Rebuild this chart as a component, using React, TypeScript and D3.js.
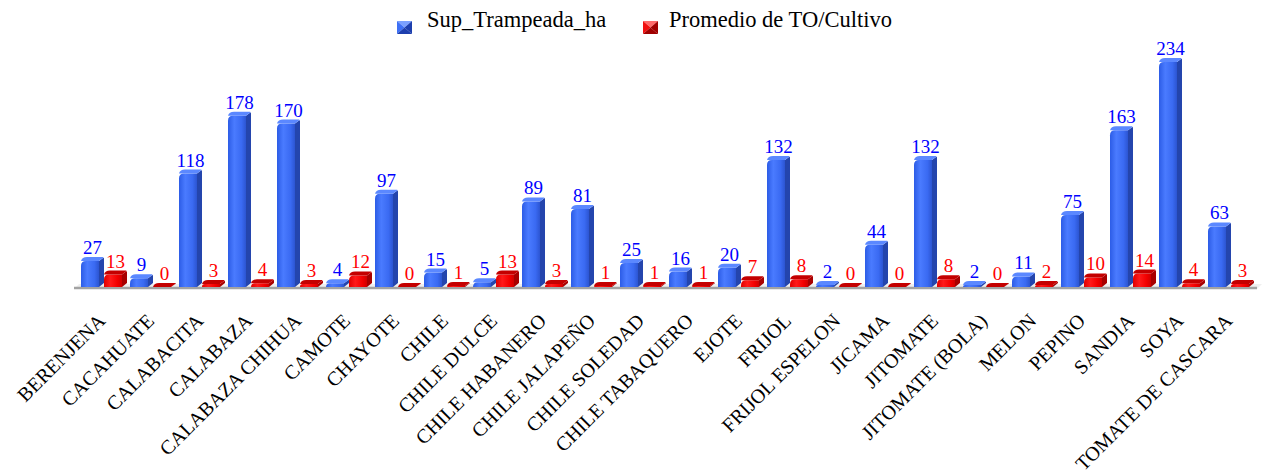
import * as d3 from 'd3';

const categories = [
  'BERENJENA', 'CACAHUATE', 'CALABACITA', 'CALABAZA', 'CALABAZA CHIHUA', 'CAMOTE',
  'CHAYOTE', 'CHILE', 'CHILE DULCE', 'CHILE HABANERO', 'CHILE JALAPEÑO', 'CHILE SOLEDAD',
  'CHILE TABAQUERO', 'EJOTE', 'FRIJOL', 'FRIJOL ESPELON', 'JICAMA', 'JITOMATE',
  'JITOMATE (BOLA)', 'MELON', 'PEPINO', 'SANDIA', 'SOYA', 'TOMATE DE CASCARA',
];
const supTrampeada = [27, 9, 118, 178, 170, 4, 97, 15, 5, 89, 81, 25, 16, 20, 132, 2, 44, 132, 2, 11, 75, 163, 234, 63];
const promedioTO = [13, 0, 3, 4, 3, 12, 0, 1, 13, 3, 1, 1, 1, 7, 8, 0, 0, 8, 0, 2, 10, 14, 4, 3];
const seriesNames = ['Sup_Trampeada_ha', 'Promedio de TO/Cultivo'];

const W = 1262;
const H = 476;
const floorY = 287;
const DX = 5;
const DY = 4;
const serif = { fontFamily: "'Liberation Serif'" };

const palette = [
  { front: 'gBlue', side: '#2445ad', top: '#5b88ff', text: '#0000ff', light: '#7aa0ff', dark: '#1d3fae', mid: '#3e70f5' },
  { front: 'gRed', side: '#a80000', top: '#c40000', text: '#ff0000', light: '#ff6a6a', dark: '#a00000', mid: '#f01010' },
];

function Bar({ x, y, bw, c }: { x: number; y: number; bw: number; c: typeof palette[0] }) {
  const fw = bw - DX;
  const r = Math.min(5, Math.max(0, floorY - y));
  const front = `M${x},${floorY} L${x},${y + r} Q${x},${y} ${x + r},${y} L${x + fw},${y} L${x + fw},${floorY} Z`;
  const side = `M${x + fw},${y} L${x + bw - 1},${y - DY + 1} Q${x + bw},${y - DY} ${x + bw},${y - DY + 2} L${x + bw},${floorY - DY} L${x + fw},${floorY} Z`;
  const top = `M${x},${y} Q${x + 1},${y - DY} ${x + DX + 1},${y - DY} L${x + bw - 1},${y - DY} Q${x + bw},${y - DY} ${x + bw - 1},${y - DY + 1} L${x + fw},${y} Z`;
  return (
    <g>
      <path d={side} fill={c.side} />
      <path d={front} fill={`url(#${c.front})`} />
      <path d={top} fill={c.top} />
    </g>
  );
}

function LegendIcon({ x, y, c }: { x: number; y: number; c: typeof palette[0] }) {
  const w = 15;
  const h = 13;
  const cx = x + w / 2;
  const cy = y + h / 2;
  return (
    <g>
      <polygon points={`${x},${y} ${x + w},${y} ${cx},${cy}`} fill={c.light} />
      <polygon points={`${x},${y} ${cx},${cy} ${x},${y + h}`} fill={c.mid} />
      <polygon points={`${x + w},${y} ${cx},${cy} ${x + w},${y + h}`} fill={c.dark} />
      <polygon points={`${x},${y + h} ${cx},${cy} ${x + w},${y + h}`} fill={c.dark} />
    </g>
  );
}

export default function App() {
  const x0 = d3.scaleBand<string>().domain(categories).range([79, 1255]).padding(0);
  const x1 = d3.scaleBand<number>().domain([0, 1]).range([2, 48]).padding(0);
  const y = d3.scaleLinear().domain([0, 234]).range([floorY, 62]);
  const data = [supTrampeada, promedioTO];

  return (
    <svg width={W} height={H} style={{ position: 'absolute', left: 0, top: 0, background: '#fff' }}>
      <defs>
        <linearGradient id="gBlue" x1="0" x2="1" y1="0" y2="0">
          <stop offset="0" stopColor="#2c5ce6" />
          <stop offset="0.35" stopColor="#4a7bff" />
          <stop offset="0.75" stopColor="#3a6af2" />
          <stop offset="1" stopColor="#2c55d2" />
        </linearGradient>
        <linearGradient id="gRed" x1="0" x2="1" y1="0" y2="0">
          <stop offset="0" stopColor="#e00000" />
          <stop offset="0.35" stopColor="#ff1a1a" />
          <stop offset="0.75" stopColor="#f20000" />
          <stop offset="1" stopColor="#d00000" />
        </linearGradient>
      </defs>

      {/* floor */}
      <polygon points={`74,289 79,284 1262,284 1257,289`} fill="#efefef" />
      <line x1={74} x2={1257} y1={288} y2={288} stroke="#a3a3a3" strokeWidth={2.5} />

      {categories.map((cat, i) => (
        <g key={cat}>
          {data.map((vals, s) => {
            const bx = (x0(cat) ?? 0) + (x1(s) ?? 0);
            const bw = x1.bandwidth();
            return <Bar key={s} x={bx} y={y(vals[i])} bw={bw} c={palette[s]} />;
          })}
        </g>
      ))}

      {categories.map((cat, i) => (
        <g key={cat + '-lbl'}>
          {data.map((vals, s) => {
            const bx = (x0(cat) ?? 0) + (x1(s) ?? 0);
            const bw = x1.bandwidth();
            return (
              <text key={s} x={bx + bw / 2} y={y(vals[i]) - DY - 3} textAnchor="middle" fontSize={19} fill={palette[s].text} fontFamily="Liberation Serif" style={serif}>
                {vals[i]}
              </text>
            );
          })}
        </g>
      ))}

      {categories.map((cat) => {
        const cx = (x0(cat) ?? 0) + x0.bandwidth() / 2 + 3;
        const cy = 322;
        return (
          <text key={cat + '-ax'} x={cx} y={cy} transform={`rotate(-45 ${cx} ${cy})`} textAnchor="end" fontSize={20} fill="#000" fontFamily="Liberation Serif" style={serif}>
            {cat}
          </text>
        );
      })}

      {/* legend */}
      <LegendIcon x={397} y={21} c={palette[0]} />
      <text x={427} y={27} fontSize={22.5} fill="#000" fontFamily="Liberation Serif" style={serif}>{seriesNames[0]}</text>
      <LegendIcon x={643} y={21} c={palette[1]} />
      <text x={669} y={27} fontSize={22.5} fill="#000" fontFamily="Liberation Serif" style={serif}>{seriesNames[1]}</text>
    </svg>
  );
}
